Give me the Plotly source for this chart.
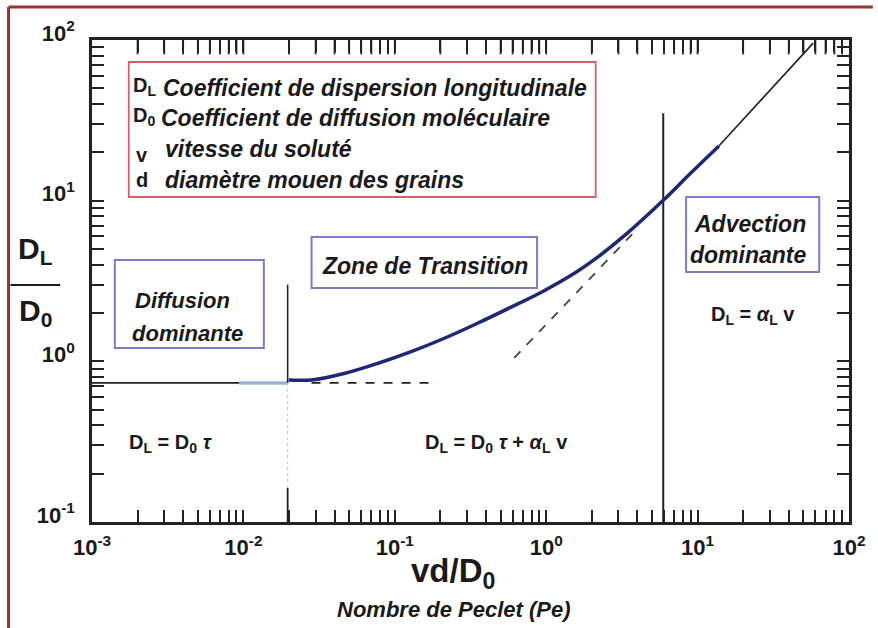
import plotly.graph_objects as go

# ---------------- data ----------------
x_tick_vals = [0.001, 0.01, 0.1, 1, 10, 100]
x_tick_text = ["10<sup>-3</sup>", "10<sup>-2</sup>", "10<sup>-1</sup>",
               "10<sup>0</sup>", "10<sup>1</sup>", "10<sup>2</sup>"]
y_tick_vals = [0.1, 1, 10, 100]
y_tick_text = ["10<sup>-1</sup>", "10<sup>0</sup>", "10<sup>1</sup>", "10<sup>2</sup>"]

# transition curve (blue)
pe_curve = [0.0199, 0.0283, 0.0469, 0.0776, 0.1283, 0.2126, 0.3515, 0.5813,
            0.963, 1.592, 2.154, 3.390, 5.93, 9.05, 13.82]
dl_curve = [0.766, 0.766, 0.843, 0.973, 1.149, 1.392, 1.726, 2.165,
            2.742, 3.61, 4.40, 6.21, 10.05, 14.9, 21.89]

# advection asymptote (solid black continuation)
pe_adv = [13.82, 58.0]
dl_adv = [21.89, 95.6]

# dashed advection asymptote
pe_adv_dash = [0.615, 3.77]
dl_adv_dash = [1.05, 6.3]

# diffusion plateau
pe_plateau = [0.001, 0.0196]
dl_plateau = [0.734, 0.734]
pe_plateau_blue = [0.00935, 0.0196]
dl_plateau_blue = [0.734, 0.734]
pe_plateau_dash = [0.0282, 0.192]
dl_plateau_dash = [0.734, 0.734]

# vertical limits
pe_lim1 = [0.0196, 0.0196]
dl_lim1_top = [3.0, 0.734]
dl_lim1_mid = [0.734, 0.163]
dl_lim1_bot = [0.163, 0.1]
pe_lim2 = [5.93, 5.93]
dl_lim2 = [35.0, 0.1]

minor_x = [m * 10.0 ** e for e in range(-3, 2) for m in range(2, 10)]
minor_y = [m * 10.0 ** e for e in range(-1, 2) for m in range(2, 10)]
top_tick_x = minor_x + x_tick_vals[1:-1]

# ---------------- layout helpers (pixel -> paper) ----------------
L, R, T, B = 92, 854, 40, 522
W, H = R - L, B - T
TICKLEN = 12


def px(p):
    return (p - L) / W


def py(p):
    return (B - p) / H


FONT = "Liberation Sans, Arial, Helvetica, sans-serif"
TXT = "#1a1a1a"
BLACK = "#222222"

fig = go.Figure()


def line_trace(x, y, color, width, dash="solid", shape="linear"):
    fig.add_trace(go.Scatter(x=x, y=y, mode="lines", line_shape=shape,
                             line=dict(color=color, width=width, dash=dash),
                             hoverinfo="skip"))


line_trace(pe_plateau, dl_plateau, BLACK, 1.6)
line_trace(pe_plateau_blue, dl_plateau_blue, "#9fb0d6", 3.5)
line_trace(pe_plateau_dash, dl_plateau_dash, BLACK, 1.6, "dash")
line_trace(pe_lim1, dl_lim1_top, BLACK, 1.6)
line_trace(pe_lim1, dl_lim1_mid, "#cccccc", 1.2, "dot")
line_trace(pe_lim1, dl_lim1_bot, BLACK, 1.8)
line_trace(pe_lim2, dl_lim2, BLACK, 2)
line_trace(pe_adv_dash, dl_adv_dash, "#444444", 1.8, "dash")
line_trace(pe_adv, dl_adv, BLACK, 1.6)
line_trace(pe_curve, dl_curve, "#1e2877", 3.5, shape="spline")

# top tick marks: drawn on a thin strip (x2 / y3) along the top edge of the frame
fig.add_trace(go.Scatter(x=top_tick_x, y=[0.5] * len(top_tick_x), mode="markers",
                         marker=dict(symbol="line-ns", size=TICKLEN,
                                     line=dict(color=BLACK, width=1.8)),
                         xaxis="x2", yaxis="y3", hoverinfo="skip", cliponaxis=False))
# invisible trace so that the right tick axis (y2) is drawn
fig.add_trace(go.Scatter(x=[0.001], y=[0.1], mode="markers", marker=dict(opacity=0),
                         xaxis="x", yaxis="y2", hoverinfo="skip"))

tickfont = dict(family=FONT, size=22, color=TXT, weight="bold")
minor_common = dict(ticks="inside", ticklen=TICKLEN, tickwidth=1.6, tickcolor=BLACK,
                    tickmode="array", showgrid=False)

axis_common = dict(
    type="log", showgrid=False, zeroline=False, showline=True,
    linecolor=BLACK, linewidth=2.5, mirror=True,
    ticks="inside", ticklen=TICKLEN, tickwidth=2, tickcolor=BLACK,
    tickmode="array", tickfont=tickfont,
)
bare = dict(showgrid=False, zeroline=False, showline=False, showticklabels=False)

fig.update_layout(
    xaxis=dict(range=[-3, 2], tickvals=x_tick_vals, ticktext=x_tick_text,
               ticklabelstandoff=4,
               minor=dict(tickvals=minor_x, **minor_common), **axis_common),
    yaxis=dict(range=[-1, 2], tickvals=y_tick_vals, ticktext=y_tick_text,
               ticklabelstandoff=10, ticklabelshift=-7,
               minor=dict(tickvals=minor_y, **minor_common), **axis_common),
    xaxis2=dict(type="log", range=[-3, 2], domain=[0, 1], anchor="y3", side="bottom",
                ticks="inside", ticklen=TICKLEN, tickwidth=2, tickcolor=BLACK,
                tickmode="array", tickvals=x_tick_vals,
                minor=dict(tickvals=minor_x, **minor_common), **bare),
    yaxis3=dict(domain=[1 - TICKLEN / H, 1], range=[0, 1], anchor="x2", ticks="", **bare),
    yaxis2=dict(type="log", range=[-1, 2], overlaying="y", side="right", anchor="x",
                ticks="inside", ticklen=TICKLEN, tickwidth=2, tickcolor=BLACK,
                tickmode="array", tickvals=y_tick_vals,
                minor=dict(tickvals=minor_y, **minor_common), **bare),
)

shapes = []
# outer dark-red frame (top and left edges of the cropped picture)
shapes.append(dict(type="line", xref="paper", yref="paper", x0=px(8), x1=px(878), y0=py(7), y1=py(7),
                   line=dict(color="#a0302e", width=3)))
shapes.append(dict(type="line", xref="paper", yref="paper", x0=px(8), x1=px(8), y0=py(7), y1=py(628),
                   line=dict(color="#a0302e", width=3)))
# symbol box (red)
shapes.append(dict(type="rect", xref="paper", yref="paper", x0=px(129), x1=px(599), y0=py(197), y1=py(62),
                   line=dict(color="#d4606c", width=1.8), fillcolor="white", layer="above"))
# zone boxes (blue)
for (x0, y0, x1, y1) in [(115, 260, 265, 348), (313, 237, 540, 288), (690, 197, 824, 272)]:
    shapes.append(dict(type="rect", xref="paper", yref="paper", x0=px(x0), x1=px(x1), y0=py(y1), y1=py(y0),
                       line=dict(color="#7d7ccb", width=2), fillcolor="rgba(0,0,0,0)", layer="above"))
# fraction bar of the y title
shapes.append(dict(type="line", xref="paper", yref="paper", x0=px(10), x1=px(60), y0=py(285), y1=py(285),
                   line=dict(color=TXT, width=2)))
fig.update_layout(shapes=shapes)

ann = []


def text(x, y, s, size=23, italic=True, bold=True, xanchor="center", yanchor="middle"):
    st = "italic" if italic else "normal"
    ann.append(dict(x=px(x), y=py(y), xref="paper", yref="paper", text=s, showarrow=False,
                    xanchor=xanchor, yanchor=yanchor,
                    font=dict(family=FONT, size=size, color=TXT, style=st,
                              weight="bold" if bold else "normal")))


# symbol legend
text(131, 86, "D<sub>L</sub>", size=20, italic=False, xanchor="left")
text(161, 88, "Coefficient de dispersion longitudinale", xanchor="left")
text(131, 116, "D<sub>0</sub>", size=20, italic=False, xanchor="left")
text(159, 118, "Coefficient de diffusion moléculaire", xanchor="left")
text(134, 155, "v", size=20, italic=False, xanchor="left")
text(163, 149, "vitesse du soluté", xanchor="left")
text(134, 180, "d", size=20, italic=False, xanchor="left")
text(163, 180, "diamètre mouen des grains", xanchor="left")

# zone labels
text(183, 300, "Diffusion", size=22)
text(188, 333, "dominante", size=22)
text(427, 266, "Zone de Transition")
text(754, 224, "Advection")
text(752, 255, "dominante")

# relations
text(172, 443, "D<sub>L</sub> = D<sub>0</sub> <i>τ</i>", size=20, italic=False)
text(499, 443, "D<sub>L</sub> = D<sub>0</sub> <i>τ</i> + <i>α</i><sub>L</sub> v", size=20, italic=False)
text(757, 315, "D<sub>L</sub> = <i>α</i><sub>L</sub> v", size=20, italic=False)

# axis titles
text(35, 250, "D<sub>L</sub>", size=30, italic=False)
text(35, 312, "D<sub>0</sub>", size=30, italic=False)
text(455, 573, "vd/D<sub>0</sub>", size=33, italic=False)
text(456, 609, "Nombre de Peclet (Pe)", size=22)

fig.update_layout(
    annotations=ann,
    width=878, height=628, autosize=False,
    margin=dict(l=L, r=878 - R, t=T, b=628 - B),
    plot_bgcolor="rgba(0,0,0,0)", paper_bgcolor="white",
    showlegend=False,
    font=dict(family=FONT, color=TXT),
)

fig.write_html("out.html", config={"displayModeBar": False},
               post_script="document.body.style.margin='0';document.body.style.overflow='hidden';")
